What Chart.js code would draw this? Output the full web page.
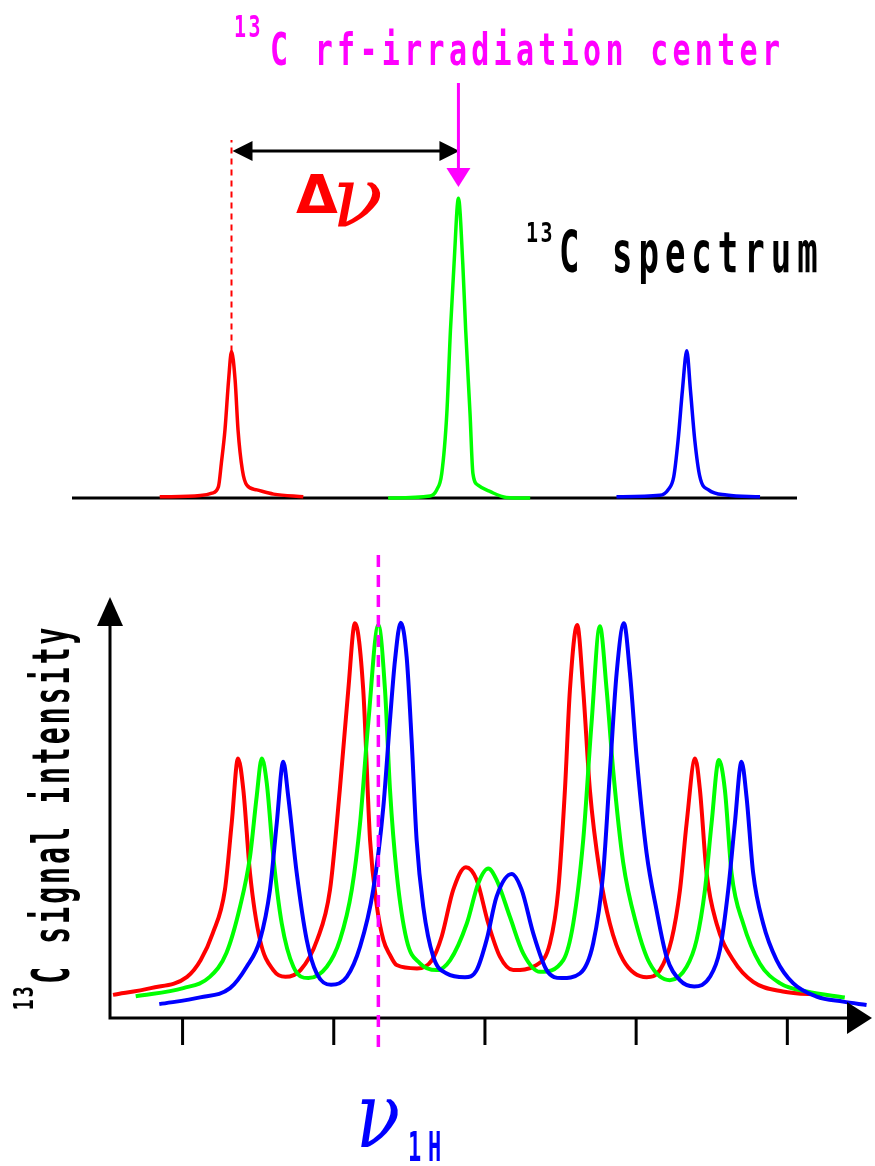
<!DOCTYPE html>
<html>
<head>
<meta charset="utf-8">
<script src="https://cdn.jsdelivr.net/npm/chart.js@4.4.1/dist/chart.umd.min.js"></script>
<style>
  html, body { margin: 0; padding: 0; background: #fff; }
  #page { position: relative; width: 875px; height: 1166px; overflow: hidden; }
  canvas { position: absolute; left: 0; display: block; }
  #topChart { top: 0; }
  #bottomChart { top: 540px; }
  .lbl { position: absolute; white-space: pre; line-height: 1; font-weight: bold; }
</style>
</head>
<body>
<div id="page">
  <canvas id="topChart" width="875" height="540"></canvas>
  <canvas id="bottomChart" width="875" height="626"></canvas>
</div>
<script>
// 13C spectrum (top): [offset, intensity], green = 100
const redTop = [[12.1, 0.4], [17.7, 0.8], [19.3, 1.6], [20.2, 3.8], [20.6, 11.6], [21.1, 22.7], [21.6, 39.3], [22.0, 48.8],
  [22.5, 39.3], [22.9, 22.7], [23.5, 9.3], [24.1, 4.3], [25.5, 2.7], [27.8, 1.3], [31.9, 0.4]];
const greenTop = [[43.6, 0], [49.4, 0.7], [50.3, 2.7], [51.0, 8.2], [51.7, 28.2], [52.2, 56.0], [52.7, 78.2], [53.3, 99.9],
  [53.9, 78.2], [54.3, 56.0], [54.9, 28.2], [55.3, 8.2], [56.0, 4.3], [57.7, 2.1], [59.9, 0.2], [63.2, 0]];
const blueTop = [[75.1, 0.4], [81.1, 0.9], [82.2, 2.7], [83.0, 7.1], [83.6, 19.3], [84.2, 36.0], [84.8, 49.1],
  [85.3, 36.0], [85.9, 19.3], [86.6, 7.1], [87.8, 2.7], [90.3, 1.0], [94.9, 0.4]];

// 13C signal intensity vs 1H irradiation frequency (bottom)
const redCurve = [[-246, 5.5], [-221, 7.1], [-197, 9.8], [-188, 13.8], [-180, 20.2], [-172, 30.5], [-167.5, 46.4], [-163.3, 61.8],
  [-159.8, 54.3], [-155.4, 34.5], [-148.8, 18.6], [-140, 11.4], [-132, 9.8], [-122, 11.4], [-111, 18.6], [-102.5, 30.5],
  [-96, 54.3], [-90.4, 78.1], [-86, 94], [-80.5, 78.1], [-76, 42.4], [-71.6, 26.9], [-67.2, 18.6], [-62.8, 15],
  [-58.4, 12.6], [-45, 11.8], [-35, 13.8], [-28.6, 19.4], [-21, 30.5], [-12.6, 35.9], [-5.5, 32.9], [2.2, 22.5],
  [9.9, 14.6], [18.7, 11.4], [34, 12.6], [43, 17.8], [48.5, 30.5], [52.9, 54.3], [56.2, 78.1], [61, 93.6],
  [65, 78.1], [69.4, 54.3], [76, 34.5], [82.6, 22.5], [91.4, 13.8], [107, 9.7], [115.7, 11.4], [123.4, 18.6],
  [129, 30.5], [133.4, 46.4], [139, 61.8], [142.2, 54.3], [146.6, 34.5], [153.2, 22.5], [164.2, 13.8], [177.4, 8.6],
  [197, 6.3], [222.6, 5.5]];
const greenCurve = [[-231, 5.2], [-199.5, 7.1], [-182, 9.8], [-171, 15.5], [-162, 26.5], [-155.4, 38.4], [-151, 52.7], [-147.6, 61.8],
  [-144.3, 55.9], [-140, 38.4], [-134.4, 22.5], [-126.7, 12.2], [-116.8, 9.5], [-104.6, 12.2], [-95.9, 18.6], [-88.1, 30.5],
  [-82.6, 46.4], [-77.2, 70.2], [-70.5, 93.6], [-66.1, 78.1], [-62.8, 54.3], [-58.4, 34.5], [-51.8, 18.6], [-43, 13],
  [-32, 11.4], [-23, 13.8], [-12, 22.5], [-4.4, 32.1], [2.2, 35.6], [7.7, 32.9], [16.5, 24.1], [25.3, 15.4],
  [36.4, 11], [51.8, 13.8], [58.4, 22.5], [65, 42.4], [70.5, 70.2], [76, 93.3], [80.5, 78.1], [84.8, 59],
  [91.4, 37.1], [100.3, 22.1], [109, 13], [122.3, 9], [133.4, 12.2], [140, 18.6], [145.5, 30.5], [149.9, 46.4],
  [154.7, 61.4], [158.7, 54.3], [163.1, 34.5], [170.8, 22.5], [181.8, 13], [195, 8.3], [212.7, 6.3], [238, 4.9]];
const blueCurve = [[-215.4, 3.3], [-188.4, 4.9], [-168.6, 7.1], [-157.6, 12.2], [-148.8, 18.6], [-142.2, 30.5], [-137.7, 46.4], [-133.4, 61],
  [-130.1, 52.7], [-124.5, 34.5], [-117.9, 18.6], [-111.3, 10.6], [-101.8, 7.9], [-91.4, 9.8], [-82.6, 17], [-73.9, 30.5],
  [-67.2, 50.3], [-62.8, 71], [-59.5, 85.2], [-55.7, 94.1], [-51.8, 86], [-48.5, 66.2], [-45.2, 42.4], [-40.8, 26.5],
  [-34.2, 14.6], [-25.3, 10.6], [-13.2, 9.7], [-5.5, 11.4], [1.1, 18.6], [7.7, 28.9], [17.7, 34.3], [24.3, 30.5],
  [31.9, 20.2], [40.8, 11.4], [50.7, 9.5], [62.8, 10.6], [71.6, 17.8], [78.2, 34.5], [82.6, 58.3], [87.1, 82.1],
  [91.9, 94], [95.9, 82.1], [100.3, 62.2], [106.9, 39.3], [113.5, 25.7], [120.1, 14.6], [128.9, 9], [138.4, 7.5],
  [148.8, 9.8], [155.4, 16.2], [160.9, 30.5], [165.3, 46.4], [169.7, 61], [173, 52.7], [177.4, 34.5], [184, 22.5],
  [192.9, 13.8], [203.8, 8.3], [219.3, 5.1], [236.9, 3.9], [252.4, 3.1]];
const freqTicks = [-200, -100, 0, 100, 200];

const RED = '#ff0000', GREEN = '#00ff00', BLUE = '#0000ff', MAGENTA = '#ff00ff';

const peakOf = pts => pts.reduce((a, b) => (b[1] > a[1] ? b : a));

function series(pts, color, order, width) {
  return {
    data: pts.map(p => ({ x: p[0], y: p[1] })),
    borderColor: color,
    borderWidth: width,
    pointRadius: 0,
    fill: false,
    cubicInterpolationMode: 'monotone',
    clip: false,
    order: order
  };
}

function arrowHead(ctx, tipX, tipY, dx, dy, len, half) {
  ctx.beginPath();
  ctx.moveTo(tipX, tipY);
  ctx.lineTo(tipX - dx * len - dy * half, tipY - dy * len + dx * half);
  ctx.lineTo(tipX - dx * len + dy * half, tipY - dy * len - dx * half);
  ctx.closePath();
  ctx.fill();
}

const topMarks = {
  id: 'topMarks',
  beforeDatasetsDraw(chart) {
    const { ctx, scales: { x, y } } = chart;
    ctx.save();
    ctx.strokeStyle = '#000';
    ctx.lineWidth = 3;
    ctx.beginPath();
    ctx.moveTo(x.getPixelForValue(x.min), y.getPixelForValue(0));
    ctx.lineTo(x.getPixelForValue(x.max), y.getPixelForValue(0));
    ctx.stroke();
    ctx.restore();
  },
  afterDatasetsDraw(chart) {
    const { ctx, chartArea, scales: { x, y } } = chart;
    const redPk = peakOf(redTop), greenPk = peakOf(greenTop);
    const xr = x.getPixelForValue(redPk[0]);
    const xg = x.getPixelForValue(greenPk[0]);
    const top = chartArea.top;
    ctx.save();
    // red dashed guide from the red peak
    ctx.strokeStyle = RED;
    ctx.lineWidth = 2;
    ctx.setLineDash([6, 5]);
    ctx.beginPath();
    ctx.moveTo(xr, y.getPixelForValue(redPk[1]));
    ctx.lineTo(xr, top - 28);
    ctx.stroke();
    ctx.setLineDash([]);
    // delta-nu double arrow
    const ay = top - 17;
    ctx.strokeStyle = '#000';
    ctx.fillStyle = '#000';
    ctx.lineWidth = 3;
    ctx.beginPath();
    ctx.moveTo(xr + 15, ay);
    ctx.lineTo(xg - 15, ay);
    ctx.stroke();
    arrowHead(ctx, xr + 1, ay, -1, 0, 20, 10);
    arrowHead(ctx, xg + 1, ay, 1, 0, 20, 10);
    // rf irradiation arrow
    ctx.strokeStyle = MAGENTA;
    ctx.fillStyle = MAGENTA;
    ctx.beginPath();
    ctx.moveTo(xg, top - 85);
    ctx.lineTo(xg, top + 4);
    ctx.stroke();
    arrowHead(ctx, xg, top + 19, 0, 1, 19, 12);
    ctx.restore();
  }
};

const bottomMarks = {
  id: 'bottomMarks',
  afterDatasetsDraw(chart) {
    const { ctx, chartArea, scales: { x, y } } = chart;
    const x0 = chartArea.left, y0 = y.getPixelForValue(0);
    const xEnd = x.getPixelForValue(x.max), yEnd = y.getPixelForValue(y.max);
    ctx.save();
    ctx.strokeStyle = '#000';
    ctx.fillStyle = '#000';
    ctx.lineWidth = 3;
    ctx.beginPath();
    ctx.moveTo(x0, y0 + 1.5);
    ctx.lineTo(x0, yEnd + 20);
    ctx.moveTo(x0 - 1.5, y0);
    ctx.lineTo(xEnd - 20, y0);
    freqTicks.forEach(v => {
      const px = x.getPixelForValue(v);
      ctx.moveTo(px, y0);
      ctx.lineTo(px, y0 + 27);
    });
    ctx.stroke();
    arrowHead(ctx, x0, yEnd - 1, 0, -1, 29, 13);
    arrowHead(ctx, xEnd, y0, 1, 0, 25, 16);
    // 13C rf irradiation position
    const xc = x.getPixelForValue(peakOf(greenCurve)[0]);
    ctx.strokeStyle = MAGENTA;
    ctx.lineWidth = 3.5;
    ctx.setLineDash([12, 8]);
    ctx.beginPath();
    ctx.moveTo(xc, yEnd - 43);
    ctx.lineTo(xc, y0 + 32);
    ctx.stroke();
    ctx.restore();
  }
};

const baseOptions = (pad, xMin, xMax, yMax) => ({
  responsive: false,
  animation: false,
  events: [],
  layout: { padding: pad, autoPadding: false },
  plugins: { legend: { display: false }, tooltip: { enabled: false }, title: { display: false } },
  scales: {
    x: { type: 'linear', min: xMin, max: xMax, display: false },
    y: { type: 'linear', min: 0, max: yMax, display: false }
  }
});

new Chart(document.getElementById('topChart'), {
  type: 'line',
  data: { datasets: [series(redTop, RED, 1, 3.5), series(greenTop, GREEN, 1, 3.5), series(blueTop, BLUE, 1, 3.5)] },
  options: baseOptions({ left: 72, right: 78, top: 168, bottom: 42 }, 0, 100, 110),
  plugins: [topMarks]
});

new Chart(document.getElementById('bottomChart'), {
  type: 'line',
  data: { datasets: [series(redCurve, RED, 3, 4), series(greenCurve, GREEN, 2, 4), series(blueCurve, BLUE, 1, 4)] },
  options: baseOptions({ left: 110, right: 3, top: 58, bottom: 148 }, -248, 256, 100),
  plugins: [bottomMarks]
});

// text labels (condensed, tall glyphs)
function label(text, o) {
  const d = document.createElement('div');
  d.className = 'lbl';
  d.textContent = text;
  const size = o.size;
  const asc = 0.846 * size;
  d.style.fontFamily = o.font || '"DejaVu Sans Mono", monospace';
  d.style.fontSize = size + 'px';
  if (o.italic) d.style.fontStyle = 'italic';
  if (o.normal) d.style.fontWeight = 'normal';
  d.style.color = o.color;
  d.style.letterSpacing = (o.ls || 0) + 'px';
  d.style.left = o.x + 'px';
  d.style.top = (o.y - asc) + 'px';
  d.style.transformOrigin = '0 ' + asc + 'px';
  d.style.transform = (o.rotate ? 'rotate(-90deg) ' : '') + 'scale(' + (o.sx || 1) + ',' + (o.sy || 1) + ')';
  document.getElementById('page').appendChild(d);
}

label('13', { x: 234, y: 37, size: 20, sy: 1.5, ls: 2.5, color: MAGENTA });
label('C rf-irradiation center', { x: 270, y: 65, size: 30, sy: 1.51, ls: 4.3, color: MAGENTA });
label('\u0394', { x: 296, y: 214, size: 54, font: '"DejaVu Sans", sans-serif', color: RED });
label('\u03bd', { x: 332, y: 226, size: 62, sx: 1.35, sy: 1.35, italic: true, normal: true, font: '"DejaVu Serif", serif', color: RED });
label('13', { x: 526, y: 242, size: 20, sy: 1.3, ls: 2.5, color: '#000' });
label('C spectrum', { x: 559, y: 272, size: 34, sy: 1.69, ls: 6.0, color: '#000' });
label('13', { x: 33, y: 1010, size: 18, sy: 1.52, ls: 2.2, rotate: true, color: '#000' });
label('C signal intensity', { x: 70, y: 984, size: 28, sy: 1.86, ls: 3.1, rotate: true, color: '#000' });
label('\u03bd', { x: 356, y: 1148, size: 66, sx: 1.1, sy: 1.4, italic: true, normal: true, font: '"DejaVu Serif", serif', color: BLUE });
label('1H', { x: 408, y: 1163, size: 22, sy: 1.87, ls: 6.8, color: BLUE });
</script>
</body>
</html>
